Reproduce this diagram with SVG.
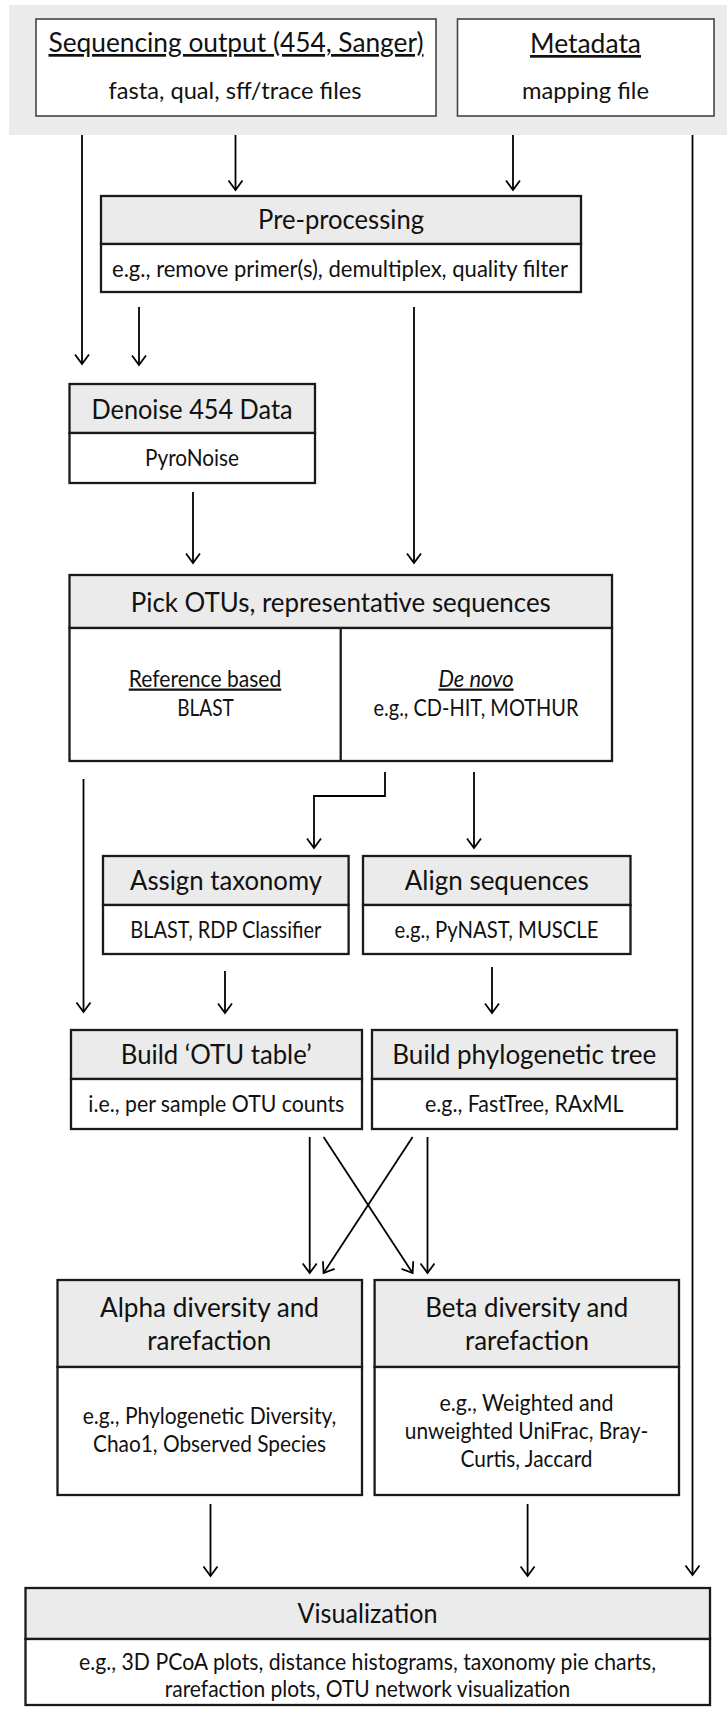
<svg xmlns="http://www.w3.org/2000/svg" width="727" height="1709" viewBox="0 0 727 1709">
<style>
text{font-family:Lato,"Liberation Sans",sans-serif;fill:#111;text-anchor:middle}
.h{font-size:27px}
.b{font-size:22.5px}
.u{text-decoration:underline}
.i{font-style:italic}
.box{fill:#fff;stroke:#1a1a1a;stroke-width:2.3}
.hd{fill:#ebebeb;stroke:#1a1a1a;stroke-width:2.3}
.top{fill:#fff;stroke:#444;stroke-width:1.6}
.ln{stroke:#1a1a1a;stroke-width:2.3}
</style>
<defs>
<marker id="arr" viewBox="-11 -9 13 18" refX="0" refY="0" markerWidth="13" markerHeight="18" markerUnits="userSpaceOnUse" orient="auto">
<path d="M-9.5,-7 L0,0 L-9.5,7" fill="none" stroke="#000" stroke-width="1.8"/>
</marker>
</defs>
<rect id="band" x="9" y="5" width="718" height="130" fill="#ebebeb"/>
<g id="seq">
<rect class="top" x="36" y="19" width="400" height="97"/>
<text class="h u" x="236" y="52" textLength="375" lengthAdjust="spacingAndGlyphs">Sequencing output (454, Sanger)</text>
<text class="b" x="235" y="99" textLength="253" lengthAdjust="spacingAndGlyphs">fasta, qual, sff/trace files</text>
</g>
<g id="meta">
<rect class="top" x="457.5" y="19" width="256.5" height="97"/>
<text class="h u" x="585.5" y="53" textLength="111" lengthAdjust="spacingAndGlyphs">Metadata</text>
<text class="b" x="585.5" y="99" textLength="127" lengthAdjust="spacingAndGlyphs">mapping file</text>
</g>
<g id="preproc">
<rect class="hd" x="101" y="196" width="480" height="48"/>
<rect class="box" x="101" y="244" width="480" height="48"/>
<text class="h" x="341" y="229" textLength="166" lengthAdjust="spacingAndGlyphs">Pre-processing</text>
<text class="b" x="340" y="277" textLength="456" lengthAdjust="spacingAndGlyphs">e.g., remove primer(s), demultiplex, quality filter</text>
</g>
<g id="denoise">
<rect class="hd" x="69.5" y="384" width="245.5" height="49"/>
<rect class="box" x="69.5" y="433" width="245.5" height="50"/>
<text class="h" x="192" y="419" textLength="201" lengthAdjust="spacingAndGlyphs">Denoise 454 Data</text>
<text class="b" x="192" y="465.5" textLength="94" lengthAdjust="spacingAndGlyphs">PyroNoise</text>
</g>
<g id="pick">
<rect class="hd" x="69.5" y="575" width="542.5" height="53"/>
<rect class="box" x="69.5" y="628" width="542.5" height="133"/>
<line class="ln" x1="340.7" y1="628" x2="340.7" y2="761"/>
<text class="h" x="340.8" y="611.5" textLength="420" lengthAdjust="spacingAndGlyphs">Pick OTUs, representative sequences</text>
<text class="b u" x="205" y="686.5" textLength="152.5" lengthAdjust="spacingAndGlyphs">Reference based</text>
<text class="b" x="205.5" y="716" textLength="56.5" lengthAdjust="spacingAndGlyphs">BLAST</text>
<text class="b u i" x="476" y="686.5" textLength="75" lengthAdjust="spacingAndGlyphs">De novo</text>
<text class="b" x="476" y="716" textLength="205" lengthAdjust="spacingAndGlyphs">e.g., CD-HIT, MOTHUR</text>
</g>
<g id="assign">
<rect class="hd" x="103" y="856" width="245.6" height="49"/>
<rect class="box" x="103" y="905" width="245.6" height="49"/>
<text class="h" x="226" y="890" textLength="192" lengthAdjust="spacingAndGlyphs">Assign taxonomy</text>
<text class="b" x="225.8" y="937.5" textLength="191" lengthAdjust="spacingAndGlyphs">BLAST, RDP Classifier</text>
</g>
<g id="align">
<rect class="hd" x="363" y="856" width="267.5" height="49"/>
<rect class="box" x="363" y="905" width="267.5" height="49"/>
<text class="h" x="496.8" y="890" textLength="184" lengthAdjust="spacingAndGlyphs">Align sequences</text>
<text class="b" x="496.5" y="937.5" textLength="204" lengthAdjust="spacingAndGlyphs">e.g., PyNAST, MUSCLE</text>
</g>
<g id="otutable">
<rect class="hd" x="71" y="1030" width="291" height="49"/>
<rect class="box" x="71" y="1079" width="291" height="50"/>
<text class="h" x="216.3" y="1064" textLength="191" lengthAdjust="spacingAndGlyphs">Build ‘OTU table’</text>
<text class="b" x="216.3" y="1111.5" textLength="256" lengthAdjust="spacingAndGlyphs">i.e., per sample OTU counts</text>
</g>
<g id="tree">
<rect class="hd" x="372" y="1030" width="305" height="49"/>
<rect class="box" x="372" y="1079" width="305" height="50"/>
<text class="h" x="524.3" y="1064" textLength="264" lengthAdjust="spacingAndGlyphs">Build phylogenetic tree</text>
<text class="b" x="524.3" y="1111.5" textLength="198.5" lengthAdjust="spacingAndGlyphs">e.g., FastTree, RAxML</text>
</g>
<g id="alpha">
<rect class="hd" x="57.5" y="1280" width="304.5" height="87"/>
<rect class="box" x="57.5" y="1367" width="304.5" height="128"/>
<text class="h" x="209.5" y="1316.5" textLength="219" lengthAdjust="spacingAndGlyphs">Alpha diversity and</text>
<text class="h" x="209.3" y="1350" textLength="124" lengthAdjust="spacingAndGlyphs">rarefaction</text>
<text class="b" x="209.5" y="1424" textLength="253.5" lengthAdjust="spacingAndGlyphs">e.g., Phylogenetic Diversity,</text>
<text class="b" x="209.5" y="1452" textLength="233" lengthAdjust="spacingAndGlyphs">Chao1, Observed Species</text>
</g>
<g id="beta">
<rect class="hd" x="374.6" y="1280" width="304.4" height="87"/>
<rect class="box" x="374.6" y="1367" width="304.4" height="128"/>
<text class="h" x="526.7" y="1316.5" textLength="203" lengthAdjust="spacingAndGlyphs">Beta diversity and</text>
<text class="h" x="527" y="1350" textLength="124" lengthAdjust="spacingAndGlyphs">rarefaction</text>
<text class="b" x="526.5" y="1411" textLength="174" lengthAdjust="spacingAndGlyphs">e.g., Weighted and</text>
<text class="b" x="526.5" y="1439" textLength="243.5" lengthAdjust="spacingAndGlyphs">unweighted UniFrac, Bray-</text>
<text class="b" x="526.5" y="1467" textLength="132" lengthAdjust="spacingAndGlyphs">Curtis, Jaccard</text>
</g>
<g id="vis">
<rect class="hd" x="25.5" y="1588" width="684.5" height="51"/>
<rect class="box" x="25.5" y="1639" width="684.5" height="66"/>
<text class="h" x="367.5" y="1622.5" textLength="140" lengthAdjust="spacingAndGlyphs">Visualization</text>
<text class="b" x="367.5" y="1670" textLength="577" lengthAdjust="spacingAndGlyphs">e.g., 3D PCoA plots, distance histograms, taxonomy pie charts,</text>
<text class="b" x="367.5" y="1697" textLength="405.5" lengthAdjust="spacingAndGlyphs">rarefaction plots, OTU network visualization</text>
</g>
<g id="connectors" fill="none" stroke="#000" stroke-width="1.8">
<path d="M82,135 V364" marker-end="url(#arr)"/>
<path d="M235.5,135 V190" marker-end="url(#arr)"/>
<path d="M513,135 V190" marker-end="url(#arr)"/>
<path d="M692.5,135 V1575" marker-end="url(#arr)"/>
<path d="M139,307 V365" marker-end="url(#arr)"/>
<path d="M414,307 V563" marker-end="url(#arr)"/>
<path d="M193,492 V563" marker-end="url(#arr)"/>
<path d="M83.5,779 V1012" marker-end="url(#arr)"/>
<path d="M385,772 V796 H314 V848" marker-end="url(#arr)"/>
<path d="M474,772 V848" marker-end="url(#arr)"/>
<path d="M225,971 V1013" marker-end="url(#arr)"/>
<path d="M492,967 V1013" marker-end="url(#arr)"/>
<path d="M309.7,1137 V1273" marker-end="url(#arr)"/>
<path d="M323.6,1137 L412.6,1273" marker-end="url(#arr)"/>
<path d="M412.6,1137 L323.6,1273" marker-end="url(#arr)"/>
<path d="M427.5,1137 V1273" marker-end="url(#arr)"/>
<path d="M210.5,1504 V1576" marker-end="url(#arr)"/>
<path d="M527.6,1504 V1576" marker-end="url(#arr)"/>
</g>
</svg>
